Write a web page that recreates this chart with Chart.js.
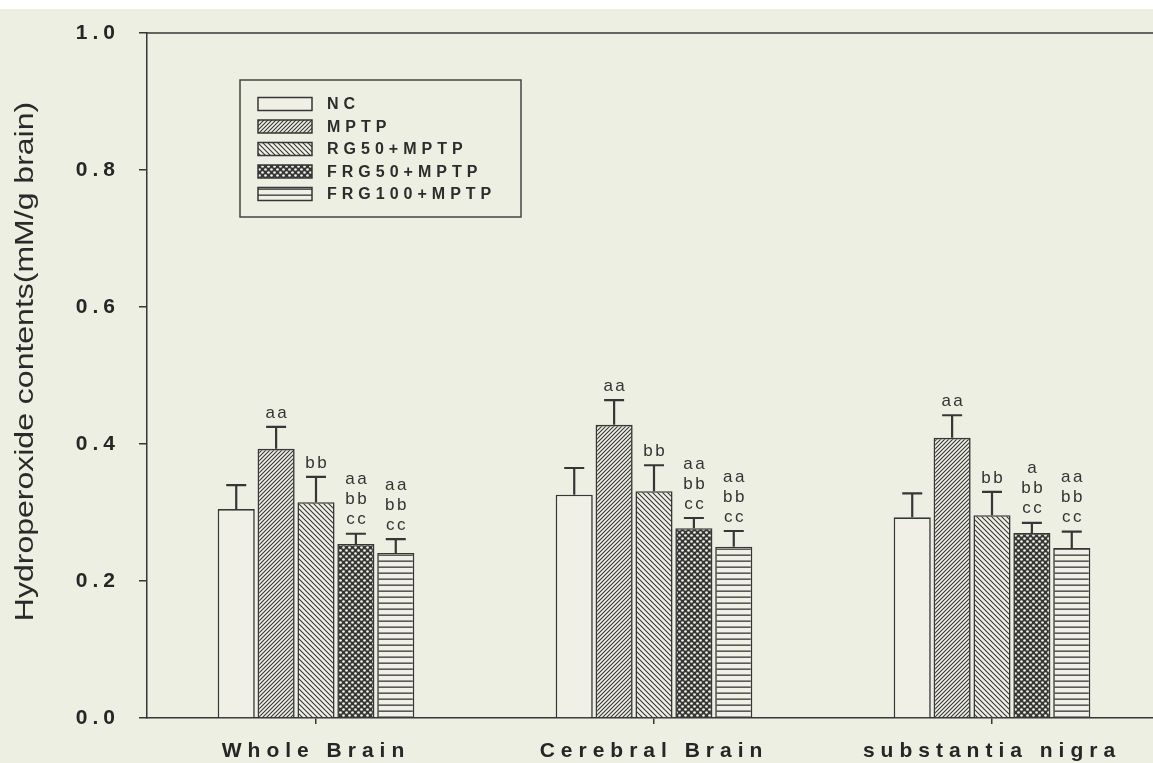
<!DOCTYPE html>
<html>
<head>
<meta charset="utf-8">
<script src="https://cdn.jsdelivr.net/npm/chart.js@4.4.1/dist/chart.umd.min.js"></script>
<style>
  html, body { margin: 0; padding: 0; width: 1153px; height: 763px; overflow: hidden;
    background: linear-gradient(#ffffff 0 9px, #eeefe3 9px); }
  #wrap { position: absolute; left: 0; top: 0; width: 1165px; height: 763px; }
</style>
</head>
<body>
<div id="wrap"><canvas id="chart"></canvas></div>
<script>
// Brain regions on the x axis
const regions = ['Whole Brain', 'Cerebral Brain', 'substantia nigra'];

// Treatment groups
const groupNames = ['NC', 'MPTP', 'RG50+MPTP', 'FRG50+MPTP', 'FRG100+MPTP'];

// Mean hydroperoxide contents (mM/g brain) per region
const ncMean     = [0.305, 0.326, 0.293];
const mptpMean   = [0.393, 0.428, 0.409];
const rg50Mean   = [0.315, 0.331, 0.296];
const frg50Mean  = [0.254, 0.277, 0.270];
const frg100Mean = [0.241, 0.250, 0.248];

// Standard deviations (upper error bars)
const ncSd     = [0.035, 0.039, 0.035];
const mptpSd   = [0.032, 0.036, 0.033];
const rg50Sd   = [0.037, 0.038, 0.034];
const frg50Sd  = [0.015, 0.015, 0.015];
const frg100Sd = [0.020, 0.023, 0.024];

// Significance letters above each bar
const ncSig     = ['', '', ''];
const mptpSig   = ['aa', 'aa', 'aa'];
const rg50Sig   = ['bb', 'bb', 'bb'];
const frg50Sig  = ['aa\nbb\ncc', 'aa\nbb\ncc', 'a\nbb\ncc'];
const frg100Sig = ['aa\nbb\ncc', 'aa\nbb\ncc', 'aa\nbb\ncc'];

// Y axis ticks
const yMin = 0, yMax = 1.0, yStep = 0.2;

const INK = '#363636';
const PAPER = '#f0f0e6';
const FONT = "'Liberation Sans', Arial, sans-serif";

// Hatch fills for the bars
function makePattern(kind) {
  const c = document.createElement('canvas');
  const g = c.getContext('2d');
  if (kind === 'plain') { return PAPER; }
  if (kind === 'fwd') {
    const s = 4; c.width = c.height = s;
    g.fillStyle = PAPER; g.fillRect(0, 0, s, s);
    g.strokeStyle = INK; g.lineWidth = 1.1;
    g.beginPath();
    g.moveTo(-1, s + 1); g.lineTo(s + 1, -1);
    g.moveTo(-1, 1); g.lineTo(1, -1);
    g.moveTo(s - 1, s + 1); g.lineTo(s + 1, s - 1);
    g.stroke();
  } else if (kind === 'back') {
    const s = 5; c.width = c.height = s;
    g.fillStyle = PAPER; g.fillRect(0, 0, s, s);
    g.strokeStyle = INK; g.lineWidth = 1.1;
    g.beginPath();
    g.moveTo(-1, -1); g.lineTo(s + 1, s + 1);
    g.moveTo(s - 1, -1); g.lineTo(s + 1, 1);
    g.moveTo(-1, s - 1); g.lineTo(1, s + 1);
    g.stroke();
  } else if (kind === 'dots') {
    const s = 6; c.width = c.height = s;
    g.fillStyle = INK; g.fillRect(0, 0, s, s);
    g.fillStyle = PAPER;
    g.beginPath(); g.arc(1.5, 1.5, 1.35, 0, Math.PI * 2); g.fill();
    g.beginPath(); g.arc(4.5, 4.5, 1.35, 0, Math.PI * 2); g.fill();
  } else if (kind === 'horiz') {
    c.width = 4; c.height = 6;
    g.fillStyle = PAPER; g.fillRect(0, 0, 4, 6);
    g.fillStyle = INK; g.fillRect(0, 2.5, 4, 1.3);
  }
  return g.createPattern(c, 'repeat');
}

const series = [
  { label: groupNames[0], data: ncMean,     sd: ncSd,     sig: ncSig,     fill: makePattern('plain') },
  { label: groupNames[1], data: mptpMean,   sd: mptpSd,   sig: mptpSig,   fill: makePattern('fwd') },
  { label: groupNames[2], data: rg50Mean,   sd: rg50Sd,   sig: rg50Sig,   fill: makePattern('back') },
  { label: groupNames[3], data: frg50Mean,  sd: frg50Sd,  sig: frg50Sig,  fill: makePattern('dots') },
  { label: groupNames[4], data: frg100Mean, sd: frg100Sd, sig: frg100Sig, fill: makePattern('horiz') }
];

// Letter-spaced tick labels per axis, and a tall, elongated y-axis title
const axisText = {
  id: 'axisText',
  beforeDraw(chart) {
    const spacing = { x: '6px', y: '5px' };
    for (const id of Object.keys(spacing)) {
      const s = chart.scales[id];
      if (s && !s._spacedWrapped) {
        const orig = s.drawLabels;
        s.drawLabels = function (area) {
          const ctx = this.ctx;
          ctx.save();
          ctx.letterSpacing = spacing[id];
          orig.call(this, area);
          ctx.restore();
        };
        s._spacedWrapped = true;
      }
    }
    const ys = chart.scales.y;
    if (ys && !ys._titleWrapped) {
      const origTitle = ys.drawTitle;
      ys.drawTitle = function () {
        const ctx = this.ctx;
        const mid = (this.top + this.bottom) / 2;
        ctx.save();
        ctx.translate(0, mid - 14);
        ctx.scale(1, 1.28);
        ctx.translate(0, -mid);
        origTitle.call(this);
        ctx.restore();
      };
      ys._titleWrapped = true;
    }
  }
};

// Top frame line of the plot
const topFrame = {
  id: 'topFrame',
  beforeDatasetsDraw(chart) {
    const { ctx, chartArea } = chart;
    ctx.save();
    ctx.strokeStyle = INK;
    ctx.lineWidth = 1.5;
    ctx.beginPath();
    ctx.moveTo(chartArea.left, chartArea.top);
    ctx.lineTo(chart.width, chartArea.top);
    ctx.stroke();
    ctx.restore();
  }
};

// Upper error bars and significance letters
const errorBars = {
  id: 'errorBars',
  afterDatasetsDraw(chart) {
    const { ctx } = chart;
    const y = chart.scales.y;
    chart.data.datasets.forEach((ds, di) => {
      const meta = chart.getDatasetMeta(di);
      meta.data.forEach((bar, i) => {
        const v = ds.data[i];
        const topPx = y.getPixelForValue(v + ds.sd[i]);
        const basePx = y.getPixelForValue(v);
        const cx = bar.x;
        ctx.save();
        ctx.strokeStyle = INK;
        ctx.lineWidth = 2.2;
        ctx.beginPath();
        ctx.moveTo(cx, basePx);
        ctx.lineTo(cx, topPx);
        ctx.moveTo(cx - 10, topPx);
        ctx.lineTo(cx + 10, topPx);
        ctx.stroke();
        const text = ds.sig[i];
        if (text) {
          const lines = text.split('\n');
          ctx.fillStyle = '#333';
          ctx.font = '17px ' + FONT;
          ctx.letterSpacing = '2.5px';
          ctx.textAlign = 'center';
          ctx.textBaseline = 'middle';
          const lh = 20;
          lines.forEach((ln, k) => {
            const yy = topPx - 14 - (lines.length - 1 - k) * lh;
            ctx.fillText(ln, cx + 1.25, yy);
          });
        }
        ctx.restore();
      });
    });
  }
};

// Framed legend in the upper left of the plot
const boxLegend = {
  id: 'boxLegend',
  afterDraw(chart) {
    const { ctx } = chart;
    const bx = 240, by = 80, bw = 281, bh = 137;
    ctx.save();
    ctx.strokeStyle = '#444';
    ctx.lineWidth = 1.5;
    ctx.strokeRect(bx, by, bw, bh);
    const rowY = [104, 126.5, 149, 171.5, 194];
    chart.data.datasets.forEach((ds, i) => {
      const cy = rowY[i];
      ctx.fillStyle = ds.backgroundColor;
      ctx.fillRect(258, cy - 6.5, 54, 13);
      ctx.strokeStyle = INK;
      ctx.lineWidth = 1.5;
      ctx.strokeRect(258, cy - 6.5, 54, 13);
      ctx.fillStyle = '#2c2c2c';
      ctx.font = 'bold 16px ' + FONT;
      ctx.letterSpacing = '5px';
      ctx.textAlign = 'left';
      ctx.textBaseline = 'middle';
      ctx.fillText(ds.label, 327, cy + 1);
    });
    ctx.restore();
  }
};

new Chart(document.getElementById('chart'), {
  type: 'bar',
  data: {
    labels: regions,
    datasets: series.map(s => ({
      label: s.label,
      data: s.data,
      sd: s.sd,
      sig: s.sig,
      backgroundColor: s.fill,
      borderColor: INK,
      borderWidth: 1.6,
      categoryPercentage: 0.59,
      barPercentage: 0.93
    }))
  },
  options: {
    responsive: true,
    maintainAspectRatio: false,
    animation: false,
    devicePixelRatio: 1,
    layout: { padding: { top: 33, right: 4, left: 0, bottom: 0 } },
    plugins: { legend: { display: false }, tooltip: { enabled: false } },
    scales: {
      x: {
        type: 'category',
        offset: true,
        grid: { offset: false, drawOnChartArea: false, drawTicks: true, tickLength: 6, color: INK, lineWidth: 1.5 },
        border: { display: true, color: INK, width: 1.5 },
        ticks: { color: '#262626', font: { family: FONT, size: 21, weight: 'bold' }, padding: 15, maxRotation: 0, autoSkip: false },
        afterFit(scale) { scale.height = 45; }
      },
      y: {
        min: yMin,
        max: yMax,
        grid: { drawOnChartArea: false, drawTicks: true, tickLength: 8, color: INK, lineWidth: 1.5 },
        border: { display: true, color: INK, width: 1.5 },
        ticks: {
          stepSize: yStep,
          color: '#262626',
          font: { family: FONT, size: 21, weight: 'bold' },
          padding: 19,
          callback: v => Number(v).toFixed(1)
        },
        title: {
          display: true,
          text: 'Hydroperoxide contents(mM/g brain)',
          color: '#2a2a2a',
          font: { family: FONT, size: 25 },
          padding: { top: 11, bottom: 0 }
        },
        afterFit(scale) { scale.width = 147; }
      }
    }
  },
  plugins: [axisText, topFrame, errorBars, boxLegend]
});
</script>
</body>
</html>
